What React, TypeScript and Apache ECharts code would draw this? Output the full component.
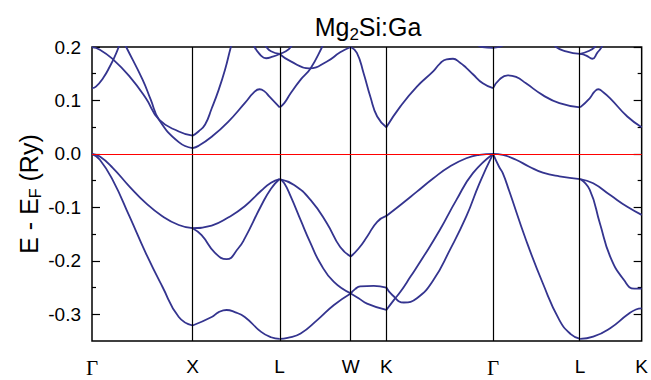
import React, { useEffect, useRef } from 'react';
import * as echarts from 'echarts';

// High-symmetry points along the path (k in units of 2π/a) and their labels
const kTicks = [0, 1, 1.866, 2.573, 2.927, 3.988, 4.854, 5.466];
const kLabels = ['Γ', 'X', 'L', 'W', 'K', 'Γ', 'L', 'K'];

// Energy axis ticks (Ry)
const yTicks = [-0.3, -0.2, -0.1, 0, 0.1, 0.2];
const yMinor = [-0.25, -0.15, -0.05, 0.05, 0.15];

// Band energies [k, E - E_F], one list per branch and path segment
// Γ – X
const gxHeavy = [[0, 0], [0.078, -0.005], [0.206, -0.026], [0.373, -0.061], [0.536, -0.092], [0.696, -0.116], [0.863, -0.133], [1, -0.139]];
const gxLight = [[0, 0], [0.078, -0.011], [0.209, -0.05], [0.373, -0.117], [0.536, -0.186], [0.699, -0.248], [0.863, -0.305], [1, -0.321]];
const gxCond1 = [[0, 0.1997], [0.078, 0.195], [0.209, 0.177], [0.373, 0.145], [0.536, 0.104], [0.667, 0.064], [0.863, 0.042], [1, 0.034]];
const gxCond2 = [[0.275, 0.225], [0.34, 0.2], [0.503, 0.139], [0.585, 0.101], [0.667, 0.064], [0.863, 0.022], [1, 0.011]];
const gxCond3 = [[0, 0.123], [0.039, 0.126], [0.111, 0.142], [0.176, 0.163], [0.242, 0.189], [0.265, 0.2], [0.294, 0.215]];
// X – L
const xlHeavy = [[1, -0.139], [1.19, -0.134], [1.354, -0.119], [1.519, -0.098], [1.682, -0.069], [1.78, -0.054], [1.866, -0.047]];
const xlMid = [[1, -0.139], [1.09, -0.152], [1.223, -0.185], [1.338, -0.197], [1.453, -0.177], [1.519, -0.158], [1.682, -0.097], [1.78, -0.065], [1.866, -0.047]];
const xlLow = [[1, -0.321], [1.19, -0.305], [1.26, -0.296], [1.338, -0.292], [1.42, -0.296], [1.519, -0.305], [1.682, -0.333], [1.78, -0.343], [1.866, -0.346]];
const xlCond1 = [[1, 0.011], [1.059, 0.015], [1.19, 0.032], [1.354, 0.06], [1.519, 0.095], [1.61, 0.115], [1.666, 0.121], [1.715, 0.117], [1.765, 0.107], [1.866, 0.087]];
const xlCond2 = [[1, 0.034], [1.059, 0.042], [1.125, 0.055], [1.19, 0.085], [1.256, 0.118], [1.322, 0.157], [1.381, 0.2], [1.413, 0.22]];
const xlTopA = [[1.59, 0.22], [1.617, 0.2], [1.676, 0.185], [1.731, 0.179], [1.797, 0.182], [1.866, 0.187]];
const xlTopB = [[1.7, 0.21], [1.734, 0.2], [1.78, 0.192], [1.866, 0.187]];
// L – W
const lwHeavy = [[1.866, -0.047], [2.01, -0.058], [2.173, -0.086], [2.337, -0.13], [2.468, -0.174], [2.573, -0.192]];
const lwMid = [[1.866, -0.047], [1.912, -0.055], [1.977, -0.08], [2.075, -0.124], [2.173, -0.167], [2.271, -0.205], [2.403, -0.239], [2.573, -0.261]];
const lwLow = [[1.866, -0.346], [1.945, -0.344], [2.075, -0.336], [2.239, -0.311], [2.403, -0.283], [2.573, -0.261]];
const lwCond1 = [[1.866, 0.087], [1.912, 0.095], [1.977, 0.114], [2.075, 0.139], [2.173, 0.16], [2.288, 0.2], [2.32, 0.215]];
const lwCond2 = [[1.866, 0.187], [1.977, 0.173], [2.158, 0.16], [2.337, 0.173], [2.468, 0.19], [2.573, 0.2]];
const lwCond3 = [[1.866, 0.187], [1.928, 0.192], [1.977, 0.2], [2.0, 0.21]];
// W – K
const wkHeavy = [[2.573, -0.192], [2.651, -0.177], [2.735, -0.155], [2.836, -0.127], [2.927, -0.116]];
const wkMid = [[2.573, -0.261], [2.616, -0.253], [2.667, -0.248], [2.802, -0.247], [2.927, -0.25]];
const wkLow = [[2.573, -0.261], [2.651, -0.27], [2.735, -0.28], [2.927, -0.292]];
const wkCond = [[2.573, 0.2], [2.634, 0.189], [2.701, 0.151], [2.768, 0.107], [2.836, 0.07], [2.927, 0.05]];
// K – Γ
const kgHeavy = [[2.927, -0.116], [3.067, -0.0955], [3.231, -0.0706], [3.395, -0.0455], [3.558, -0.0237], [3.722, -0.0081], [3.853, -0.0019], [3.988, 0]];
const kgMid = [[2.927, -0.25], [2.986, -0.264], [3.101, -0.278], [3.231, -0.27], [3.395, -0.236], [3.558, -0.18], [3.722, -0.117], [3.853, -0.055], [3.988, 0]];
const kgLow = [[2.927, -0.292], [3.003, -0.273], [3.067, -0.258], [3.166, -0.23], [3.297, -0.192], [3.46, -0.142], [3.624, -0.086], [3.788, -0.036], [3.988, 0]];
const kgCond = [[2.927, 0.05], [3.067, 0.089], [3.231, 0.126], [3.395, 0.155], [3.46, 0.169], [3.526, 0.177], [3.59, 0.178], [3.657, 0.171], [3.722, 0.161], [3.788, 0.149], [3.886, 0.132], [3.988, 0.123]];
const gammaTop = [[3.82, 0.206], [3.88, 0.2], [3.988, 0.1985], [4.05, 0.2], [4.11, 0.206]];
// Γ – L
const glHeavy = [[3.988, 0], [4.085, -0.002], [4.217, -0.011], [4.349, -0.024], [4.483, -0.035], [4.648, -0.042], [4.854, -0.047]];
const glLight = [[3.988, 0], [4.048, -0.024], [4.085, -0.036], [4.15, -0.07], [4.316, -0.161], [4.483, -0.242], [4.648, -0.311], [4.76, -0.337], [4.854, -0.346]];
const glCond = [[3.988, 0.123], [4.051, 0.139], [4.134, 0.147], [4.217, 0.144], [4.316, 0.132], [4.483, 0.11], [4.648, 0.095], [4.854, 0.087]];
const glTop = [[4.59, 0.21], [4.615, 0.2], [4.714, 0.192], [4.854, 0.187]];
// L – K
const lkHeavy = [[4.854, -0.047], [4.984, -0.055], [5.153, -0.077], [5.323, -0.099], [5.466, -0.114]];
const lkMid = [[4.854, -0.047], [4.949, -0.067], [5.051, -0.13], [5.153, -0.192], [5.29, -0.236], [5.392, -0.252], [5.466, -0.252]];
const lkLow = [[4.854, -0.346], [4.984, -0.342], [5.153, -0.326], [5.323, -0.301], [5.409, -0.291], [5.466, -0.289]];
const lkCond = [[4.854, 0.087], [4.949, 0.104], [4.995, 0.116], [5.035, 0.121], [5.08, 0.116], [5.153, 0.104], [5.323, 0.07], [5.466, 0.05]];
const lkTopA = [[4.854, 0.187], [4.915, 0.184], [4.976, 0.178], [5.024, 0.189], [5.068, 0.2], [5.09, 0.21]];
const lkTopB = [[4.854, 0.187], [4.933, 0.192], [5.0, 0.2], [5.03, 0.21]];

const bands = [
  gxHeavy, gxLight, gxCond1, gxCond2, gxCond3,
  xlHeavy, xlMid, xlLow, xlCond1, xlCond2, xlTopA, xlTopB,
  lwHeavy, lwMid, lwLow, lwCond1, lwCond2, lwCond3,
  wkHeavy, wkMid, wkLow, wkCond,
  kgHeavy, kgMid, kgLow, kgCond, gammaTop,
  glHeavy, glLight, glCond, glTop,
  lkHeavy, lkMid, lkLow, lkCond, lkTopA, lkTopB,
];

const BAND_COLOR = '#34348f';
const SANS = '"Liberation Sans", Arial, Helvetica, sans-serif';
const SERIF = '"Liberation Serif", "Times New Roman", serif';

export default function App() {
  const ref = useRef<HTMLDivElement>(null);

  useEffect(() => {
    if (!ref.current) return;
    const chart = echarts.init(ref.current, null, { renderer: 'svg' });

    const kLabel = (v: number) => {
      let best = 0;
      kTicks.forEach((k, i) => {
        if (Math.abs(k - v) < Math.abs(kTicks[best] - v)) best = i;
      });
      const s = kLabels[best];
      return s === 'Γ' ? `{g|${s}}` : `{n|${s}}`;
    };

    const yBase = {
      type: 'value' as const,
      min: -0.35,
      max: 0.2,
      splitLine: { show: false },
      axisLine: { show: false },
    };
    const tickStyle = { color: '#000', width: 1.2 };

    chart.setOption({
      animation: false,
      backgroundColor: '#fff',
      grid: {
        left: 92,
        right: 7,
        top: 47,
        bottom: 39,
        show: true,
        borderColor: '#000',
        borderWidth: 1.5,
        backgroundColor: 'transparent',
      },
      xAxis: {
        type: 'value',
        min: kTicks[0],
        max: kTicks[kTicks.length - 1],
        splitLine: { show: false },
        axisLine: { show: false },
        axisTick: { show: false },
        axisLabel: {
          customValues: kTicks,
          margin: 16,
          formatter: kLabel,
          rich: {
            g: { fontFamily: SERIF, fontSize: 21, color: '#000' },
            n: { fontFamily: SANS, fontSize: 19, color: '#000' },
          },
        },
      },
      yAxis: [
        {
          ...yBase,
          position: 'left',
          axisTick: { inside: true, length: 8, customValues: yTicks, lineStyle: tickStyle },
          axisLabel: {
            customValues: yTicks,
            formatter: (v: number) => v.toFixed(1),
            fontFamily: SANS,
            fontSize: 19,
            color: '#000',
            margin: 11,
          },
        },
        {
          ...yBase,
          position: 'left',
          axisTick: { inside: true, length: 4, customValues: yMinor, lineStyle: tickStyle },
          axisLabel: { show: false },
        },
        {
          ...yBase,
          position: 'right',
          axisTick: { inside: true, length: 8, customValues: yTicks, lineStyle: tickStyle },
          axisLabel: { show: false },
        },
        {
          ...yBase,
          position: 'right',
          axisTick: { inside: true, length: 4, customValues: yMinor, lineStyle: tickStyle },
          axisLabel: { show: false },
        },
      ],
      graphic: [
        {
          type: 'text',
          x: 368,
          y: 27,
          silent: true,
          style: {
            text: 'Mg{s|2}Si:Ga',
            align: 'center',
            verticalAlign: 'middle',
            fontFamily: SANS,
            fontSize: 25,
            fill: '#000',
            rich: {
              s: { fontFamily: SANS, fontSize: 17, padding: [14, 0, 0, 0] },
            },
          },
        },
        {
          type: 'text',
          x: 29,
          y: 194,
          rotation: Math.PI / 2,
          silent: true,
          style: {
            text: 'E - E{s|F} (Ry)',
            align: 'center',
            verticalAlign: 'middle',
            fontFamily: SANS,
            fontSize: 25,
            fill: '#000',
            rich: {
              s: { fontFamily: SANS, fontSize: 16, padding: [13, 0, 0, 0] },
            },
          },
        },
      ],
      series: [
        {
          type: 'line',
          data: [],
          silent: true,
          z: 2,
          markLine: {
            silent: true,
            symbol: ['none', 'none'],
            label: { show: false },
            lineStyle: { color: '#000', width: 1.2, type: 'solid' },
            data: [
              ...kTicks.slice(1, -1).map((k) => ({ xAxis: k })),
              { yAxis: 0, lineStyle: { color: '#ff0000', width: 1.2, type: 'solid' } },
            ],
          },
        },
        ...bands.map((b) => ({
          type: 'line',
          data: b,
          smooth: 0.5,
          showSymbol: false,
          silent: true,
          clip: true,
          z: 3,
          lineStyle: { color: BAND_COLOR, width: 1.8 },
        })),
      ],
    });

    return () => chart.dispose();
  }, []);

  return (
    <div
      ref={ref}
      style={{ position: 'fixed', left: 0, top: 0, width: 651, height: 380 }}
    />
  );
}
